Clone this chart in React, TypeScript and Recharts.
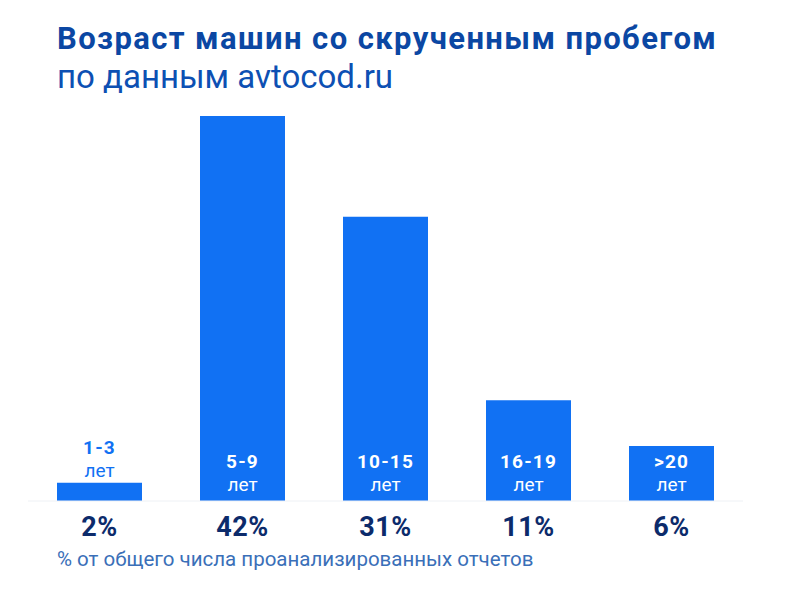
import React from 'react'
import { Bar, BarChart, LabelList, ReferenceLine, XAxis, YAxis } from 'recharts'

const ages = ['1-3', '5-9', '10-15', '16-19', '>20']
const shares = [2, 42, 31, 11, 6]

const data = ages.map((age, i) => ({ age, share: shares[i], pct: `${shares[i]}%` }))

const FONT = 'Roboto, "Noto Sans", sans-serif'
const BAR = '#1171f3'

function AgeLabel(props: any) {
  const { x, y, width, height, value } = props
  const cx = x + width / 2
  const small = height < 40
  const fill = small ? BAR : '#ffffff'
  // baseline of "лет"
  const bottom = small ? y - 6 : y + height - 10.5
  return (
    <g fontFamily={FONT} textAnchor="middle" fill={fill}>
      <text x={cx} y={bottom - 22.5} fontSize={19} fontWeight={700} letterSpacing={1.2}>{value}</text>
      <text x={cx} y={bottom} fontSize={19}>лет</text>
    </g>
  )
}

export default function App() {
  const line = { position: 'absolute' as const, left: 57, lineHeight: 1, whiteSpace: 'nowrap' as const }
  return (
    <div style={{ position: 'absolute', left: 0, top: 0, width: 800, height: 599, background: '#fff', fontFamily: FONT }}>
      <div style={{ ...line, top: 23, fontSize: 31, fontWeight: 700, letterSpacing: 1.4, color: '#0b47a3' }}>
        Возраст машин со скрученным пробегом
      </div>
      <div style={{ ...line, top: 60, fontSize: 33, color: '#0d50b3' }}>
        по данным avtocod.ru
      </div>
      <BarChart width={800} height={599} data={data} margin={{ top: 116, right: 57, bottom: 68, left: 28 }} barCategoryGap={29}>
        <YAxis hide domain={[0, 42]} />
        <XAxis
          dataKey="pct"
          height={30}
          axisLine={false}
          tickLine={false}
          tickMargin={10}
          tick={{ fill: '#0c2b6b', fontSize: 27, fontWeight: 700, fontFamily: FONT, letterSpacing: 0.5 }}
        />
        <ReferenceLine y={0} stroke="#eef1f5" strokeWidth={1} />
        <Bar dataKey="share" fill={BAR} isAnimationActive={false}>
          <LabelList dataKey="age" content={<AgeLabel />} />
        </Bar>
      </BarChart>
      <div style={{ ...line, top: 549, fontSize: 20.5, color: '#3a6fb8' }}>
        % от общего числа проанализированных отчетов
      </div>
    </div>
  )
}
